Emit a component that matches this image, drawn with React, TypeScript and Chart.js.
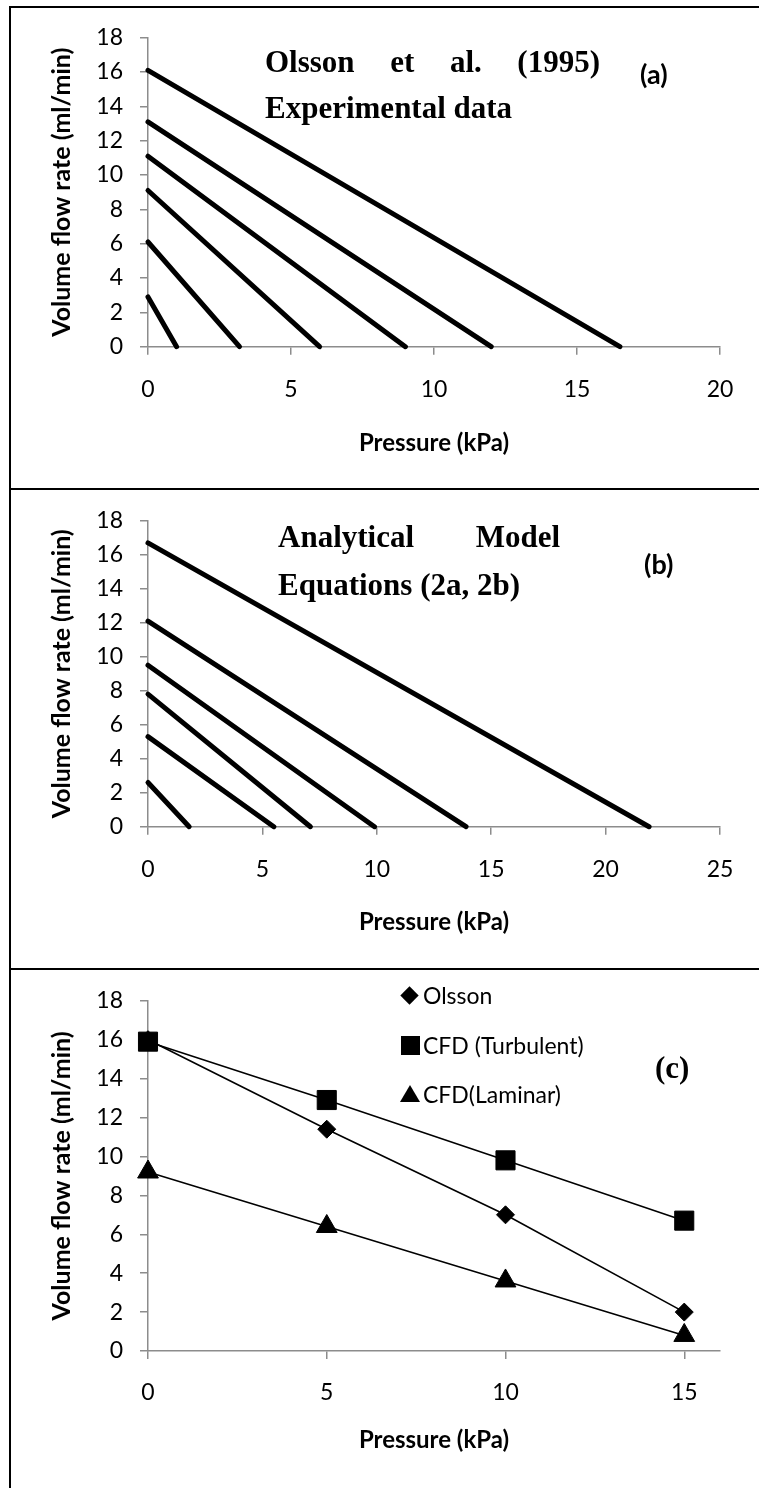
import React, { useEffect, useRef } from "react";
import { Chart, registerables } from "chart.js";

Chart.register(...registerables);

// ---------- data ----------
// Panel (a): Olsson et al. (1995) experimental data (flow at zero pressure, pressure at zero flow)
const aFlowAtZeroPressure = [16.1, 13.1, 11.1, 9.1, 6.1, 2.9];
const aPressureAtZeroFlow = [16.5, 12.0, 9.0, 6.0, 3.2, 1.0];
const aPressureTicks = [0, 5, 10, 15, 20];

// Panel (b): analytical model, equations (2a, 2b)
const bFlowAtZeroPressure = [16.7, 12.1, 9.5, 7.8, 5.3, 2.6];
const bPressureAtZeroFlow = [21.9, 13.9, 9.9, 7.1, 5.5, 1.8];
const bPressureTicks = [0, 5, 10, 15, 20, 25];

// Panel (c): comparison
const cPressure = [0, 5, 10, 15];
const cOlsson = [16.0, 11.4, 7.0, 2.0];
const cTurbulent = [15.9, 12.9, 9.8, 6.7];
const cLaminar = [9.2, 6.4, 3.6, 0.8];
const cPressureTicks = [0, 5, 10, 15];

const flowTicks = [0, 2, 4, 6, 8, 10, 12, 14, 16, 18];
const seriesNames = ["Olsson", "CFD (Turbulent)", "CFD(Laminar)"];
const xTitle = "Pressure (kPa)";
const yTitle = "Volume flow rate (ml/min)";

// ---------- layout ----------
const W = 759;
const AREA_LEFT = 148;
const AREA_RIGHT = 720;
const GRAY = "#8c8c8c";
const SANS = "Lato, 'Open Sans', sans-serif";
const SERIF = "'Times New Roman', 'Liberation Serif', serif";

type Panel = {
  top: number;
  height: number;
  areaTop: number;
  areaBottom: number;
  xMax: number;
  xTicks: number[];
  titleCenter: number;
  tickPad: number;
};

const panels: Panel[] = [
  { top: 0, height: 488, areaTop: 37.7, areaBottom: 346.7, xMax: 20, xTicks: aPressureTicks, titleCenter: 443, tickPad: 21 },
  { top: 490, height: 478, areaTop: 30, areaBottom: 336.7, xMax: 25, xTicks: bPressureTicks, titleCenter: 432, tickPad: 21 },
  { top: 970, height: 518, areaTop: 30, areaBottom: 381, xMax: 16, xTicks: cPressureTicks, titleCenter: 470, tickPad: 20 },
];

function lineSets(starts: number[], ends: number[]) {
  return starts.map((y0, i) => ({
    data: [
      { x: 0, y: y0 },
      { x: ends[i], y: 0 },
    ],
    borderColor: "#000",
    borderWidth: 5,
    borderCapStyle: "round" as const,
    pointRadius: 0,
    fill: false,
    tension: 0,
    clip: false as const,
  }));
}

function seriesSet(label: string, ys: number[], style: string, radius: number, order: number) {
  return {
    label,
    data: cPressure.map((x, i) => ({ x, y: ys[i] })),
    borderColor: "#000",
    backgroundColor: "#000",
    borderWidth: 1.6,
    pointStyle: style,
    pointRadius: radius,
    pointBackgroundColor: "#000",
    pointBorderColor: "#000",
    pointBorderWidth: 1,
    fill: false,
    tension: 0,
    clip: false as const,
    order,
  };
}

function makeChart(canvas: HTMLCanvasElement, p: Panel, datasets: any[]) {
  const xAxisH = p.height - p.areaBottom;
  const xTitleSize = 24;
  const yTitleSize = 25;
  return new Chart(canvas, {
    type: "line",
    data: { datasets },
    options: {
      animation: false,
      responsive: false,
      maintainAspectRatio: false,
      events: [],
      layout: { padding: { left: 0, top: p.areaTop, right: W - AREA_RIGHT, bottom: 0 } },
      plugins: { legend: { display: false }, tooltip: { enabled: false } },
      scales: {
        x: {
          type: "linear",
          min: 0,
          max: p.xMax,
          bounds: "data",
          afterBuildTicks: (s: any) => {
            s.ticks = p.xTicks.map((v) => ({ value: v }));
          },
          afterFit: (s: any) => {
            s.height = xAxisH;
          },
          grid: { drawOnChartArea: false, drawTicks: true, tickLength: 8, color: GRAY, lineWidth: 1.5 },
          border: { display: true, color: GRAY, width: 1.5 },
          ticks: { color: "#000", font: { family: SANS, size: 23 }, padding: p.tickPad, maxRotation: 0, autoSkip: false },
          title: {
            display: true,
            text: xTitle,
            color: "#000",
            font: { family: SANS, size: xTitleSize, weight: "bold" },
            padding: { top: 0, bottom: p.height - p.titleCenter - (xTitleSize * 1.2) / 2 },
          },
        },
        y: {
          type: "linear",
          min: 0,
          max: 18,
          afterBuildTicks: (s: any) => {
            s.ticks = flowTicks.map((v) => ({ value: v }));
          },
          afterFit: (s: any) => {
            s.width = AREA_LEFT;
          },
          grid: { drawOnChartArea: false, drawTicks: true, tickLength: 8, color: GRAY, lineWidth: 1.5 },
          border: { display: true, color: GRAY, width: 1.5 },
          ticks: { color: "#000", font: { family: SANS, size: 23 }, padding: 17, autoSkip: false },
          title: {
            display: true,
            text: yTitle,
            color: "#000",
            font: { family: SANS, size: yTitleSize, weight: "bold" },
            padding: { top: 62 - (yTitleSize * 1.2) / 2, bottom: 0 },
          },
        },
      },
    },
  } as any);
}

function Txt(props: { left: number; top: number; width?: number; children: React.ReactNode; style?: React.CSSProperties }) {
  return (
    <div
      style={{
        position: "absolute",
        left: props.left,
        top: props.top,
        width: props.width,
        whiteSpace: "nowrap",
        ...props.style,
      }}
    >
      {props.children}
    </div>
  );
}

const timesStyle: React.CSSProperties = {
  fontFamily: SERIF,
  fontWeight: "bold",
  fontSize: 31,
  lineHeight: "31px",
  color: "#000",
};
const justifyStyle: React.CSSProperties = {
  ...timesStyle,
  textAlign: "justify",
  textAlignLast: "justify" as any,
};
const tagStyle: React.CSSProperties = {
  fontFamily: SANS,
  fontWeight: "bold",
  fontSize: 27,
  lineHeight: "27px",
  color: "#000",
};
const legendStyle: React.CSSProperties = {
  fontFamily: SANS,
  fontSize: 23,
  lineHeight: "23px",
  color: "#000",
};

export default function App() {
  const refA = useRef<HTMLCanvasElement>(null);
  const refB = useRef<HTMLCanvasElement>(null);
  const refC = useRef<HTMLCanvasElement>(null);

  useEffect(() => {
    const charts: Chart[] = [];
    if (refA.current) charts.push(makeChart(refA.current, panels[0], lineSets(aFlowAtZeroPressure, aPressureAtZeroFlow)));
    if (refB.current) charts.push(makeChart(refB.current, panels[1], lineSets(bFlowAtZeroPressure, bPressureAtZeroFlow)));
    if (refC.current)
      charts.push(
        makeChart(refC.current, panels[2], [
          seriesSet(seriesNames[0], cOlsson, "rectRot", 9, 2),
          seriesSet(seriesNames[1], cTurbulent, "rect", 13.5, 1),
          seriesSet(seriesNames[2], cLaminar, "triangle", 12, 3),
        ])
      );
    return () => charts.forEach((c) => c.destroy());
  }, []);

  const refs = [refA, refB, refC];

  return (
    <div style={{ position: "absolute", left: 0, top: 0, width: W, height: 1488, overflow: "hidden", background: "#fff" }}>
      {panels.map((p, i) => (
        <canvas
          key={i}
          ref={refs[i]}
          width={W}
          height={p.height}
          style={{ position: "absolute", left: 0, top: p.top, width: W, height: p.height }}
        />
      ))}

      {/* panel borders */}
      <div style={{ position: "absolute", left: 9, top: 6, width: 2, height: 1482, background: "#000" }} />
      {[6, 488, 968].map((y) => (
        <div key={y} style={{ position: "absolute", left: 9, top: y, width: W - 9, height: 2, background: "#000" }} />
      ))}

      {/* panel (a) annotations */}
      <Txt left={265} top={46} width={335} style={justifyStyle}>
        Olsson et al. (1995)
      </Txt>
      <Txt left={265} top={92} style={timesStyle}>
        Experimental data
      </Txt>
      <Txt left={640} top={60} style={tagStyle}>
        (a)
      </Txt>

      {/* panel (b) annotations */}
      <Txt left={278} top={521} width={282} style={justifyStyle}>
        Analytical Model
      </Txt>
      <Txt left={278} top={569} style={timesStyle}>
        Equations (2a, 2b)
      </Txt>
      <Txt left={644} top={550} style={tagStyle}>
        (b)
      </Txt>

      {/* panel (c) annotations */}
      <Txt left={655} top={1052} style={timesStyle}>
        (c)
      </Txt>

      {/* panel (c) legend */}
      <div
        style={{
          position: "absolute",
          left: 403,
          top: 989,
          width: 13,
          height: 13,
          background: "#000",
          transform: "rotate(45deg)",
        }}
      />
      <Txt left={423} top={984} style={legendStyle}>
        {seriesNames[0]}
      </Txt>
      <div style={{ position: "absolute", left: 401, top: 1036, width: 19, height: 19, background: "#000" }} />
      <Txt left={423} top={1034} style={legendStyle}>
        {seriesNames[1]}
      </Txt>
      <div
        style={{
          position: "absolute",
          left: 400,
          top: 1085,
          width: 0,
          height: 0,
          borderLeft: "10px solid transparent",
          borderRight: "10px solid transparent",
          borderBottom: "17px solid #000",
        }}
      />
      <Txt left={423} top={1083} style={legendStyle}>
        {seriesNames[2]}
      </Txt>
    </div>
  );
}
